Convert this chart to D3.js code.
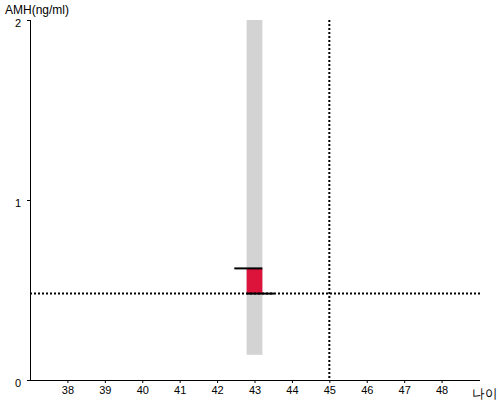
<!DOCTYPE html>
<html><head><meta charset="utf-8">
<script src="https://cdn.jsdelivr.net/npm/d3@7"></script>
<style>body{margin:0;background:#fff}svg{display:block}text{font-family:"Liberation Sans",Arial,sans-serif}</style>
</head><body><svg id="c" width="500" height="400"></svg>
<script>
const xTicks = [38,39,40,41,42,43,44,45,46,47,48];
const yTicks = [0,1,2];
const bandRange = [{age:43, low:0.14, high:2}];
const amhRange = [{age:43, low:0.48, high:0.62}];
const refAge = [45];
const refAmh = [0.48];

const svg = d3.select("#c");
const x = d3.scaleLinear().domain([37,49]).range([30,479]);
const y = d3.scaleLinear().domain([0,2]).range([380,20]);
const halfW = 0.21;

svg.selectAll("rect.band").data(bandRange).join("rect")
  .attr("x", d=>x(d.age-halfW)).attr("width", d=>x(d.age+halfW)-x(d.age-halfW))
  .attr("y", d=>y(d.high)).attr("height", d=>y(d.low)-y(d.high))
  .attr("fill","#d3d3d3");

svg.selectAll("rect.amh").data(amhRange).join("rect")
  .attr("x", d=>x(d.age-halfW)).attr("width", d=>x(d.age+halfW)-x(d.age-halfW))
  .attr("y", d=>y(d.high)).attr("height", d=>y(d.low)-y(d.high))
  .attr("fill","#dc143c");

amhRange.forEach(d=>{
  svg.append("line").attr("x1",x(d.age-0.54)).attr("x2",x(d.age+halfW))
    .attr("y1",y(d.high)).attr("y2",y(d.high)).attr("stroke","#000").attr("stroke-width",2);
});

svg.selectAll("line.h").data(refAmh).join("line")
  .attr("x1",30).attr("x2",480).attr("y1",d=>y(d)).attr("y2",d=>y(d))
  .attr("stroke","#000").attr("stroke-width",2).attr("stroke-dasharray","2,2");
svg.selectAll("line.v").data(refAge).join("line")
  .attr("x1",d=>x(d)).attr("x2",d=>x(d)).attr("y1",20).attr("y2",380)
  .attr("stroke","#000").attr("stroke-width",2).attr("stroke-dasharray","2,2");

amhRange.forEach(d=>{
  svg.append("line").attr("x1",x(d.age-halfW)).attr("x2",x(d.age+0.53))
    .attr("y1",y(d.low)).attr("y2",y(d.low)).attr("stroke","#000").attr("stroke-width",2);
});

const xAxis = svg.append("g").attr("transform","translate(0,380)")
  .call(d3.axisBottom(x).tickValues(xTicks).tickSize(3).tickPadding(3).tickFormat(d3.format("d")));
xAxis.select(".domain").attr("d","M30,0.5H480");
const yAxis = svg.append("g").attr("transform","translate(30,0)")
  .call(d3.axisLeft(y).tickValues(yTicks).tickSize(3).tickPadding(6).tickFormat(d3.format("d")));
yAxis.select(".domain").attr("d","M0.5,20V380");
yAxis.selectAll(".tick text").attr("dy","0.55em");
svg.selectAll(".tick text").attr("font-size",11).attr("fill","#000").attr("font-family","Liberation Sans, Arial, sans-serif");

svg.append("text").attr("x",5).attr("y",14).attr("font-size",12).text("AMH(ng/ml)");
svg.append("text").attr("x",472).attr("y",398).attr("font-size",13)
  .attr("textLength",25).attr("lengthAdjust","spacingAndGlyphs")
  .attr("font-family","Noto Sans CJK KR, sans-serif").text("나이");
</script></body></html>
